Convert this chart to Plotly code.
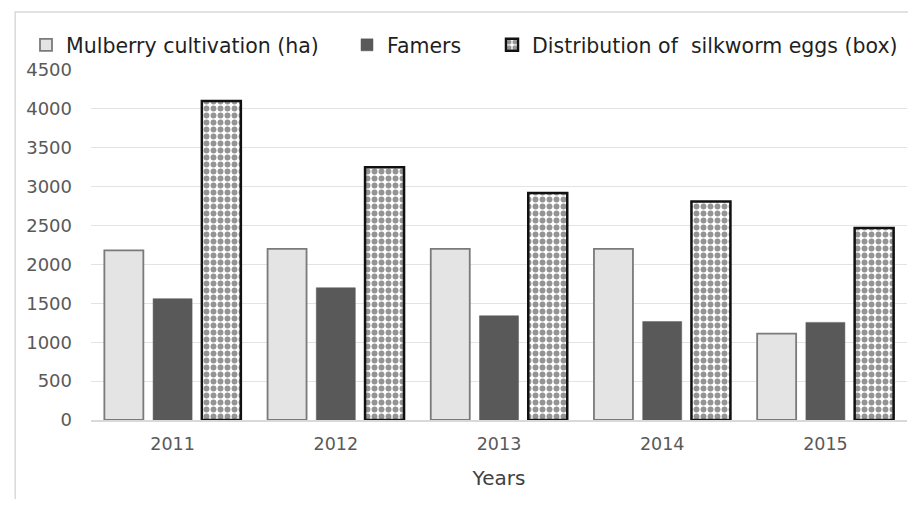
import plotly.graph_objects as go

years = ["2011", "2012", "2013", "2014", "2015"]
mulberry_ha = [2180, 2200, 2200, 2200, 1110]
famers = [1560, 1700, 1340, 1265, 1255]
silkworm_eggs_box = [4100, 3250, 2920, 2810, 2470]

series_names = [
    "Mulberry cultivation (ha)",
    "Famers",
    "Distribution of \u00a0silkworm eggs (box)",
]
y_ticks = [0, 500, 1000, 1500, 2000, 2500, 3000, 3500, 4000, 4500]

FONT = "DejaVu Sans"
# the page body has an 8px margin; the figure is sized to fit inside it
W, H = 900, 491

fig = go.Figure()
fig.add_trace(go.Bar(
    x=years, y=mulberry_ha, name=series_names[0], legend="legend",
    marker=dict(color="#e4e4e4", line=dict(color="#7a7a7a", width=1.8)),
))
fig.add_trace(go.Bar(
    x=years, y=famers, name=series_names[1], legend="legend2",
    marker=dict(color="#595959", line=dict(color="#595959", width=0.5)),
))
fig.add_trace(go.Bar(
    x=years, y=silkworm_eggs_box, name=series_names[2], legend="legend3",
    marker=dict(
        color="white",
        line=dict(color="#111111", width=2.5),
        pattern=dict(shape=".", fgcolor="#2a2a2a", bgcolor="white",
                     size=7, solidity=0.55, fillmode="overlay"),
    ),
))

leg_common = dict(orientation="h", xref="container", yref="container",
                  yanchor="middle", y=1 - 37 / H, xanchor="left",
                  font=dict(family=FONT, size=20.5, color="#1f1f1f"),
                  bgcolor="rgba(0,0,0,0)", borderwidth=0)

fig.update_layout(
    width=W, height=H,
    showlegend=True,
    margin=dict(l=83, r=1, t=62, b=79, autoexpand=False),
    paper_bgcolor="white", plot_bgcolor="white",
    barmode="group", bargap=0.104, bargroupgap=0.2,
    font=dict(family=FONT, color="#595959"),
    legend=dict(x=18 / W, **leg_common),
    legend2=dict(x=339 / W, **leg_common),
    legend3=dict(x=484 / W, **leg_common),
    xaxis=dict(
        showgrid=False, showline=True, linecolor="#d9d9d9", linewidth=1.5,
        ticks="", ticklabelstandoff=7,
        tickfont=dict(family=FONT, size=17.5, color="#595959"),
        title=dict(text="Years", font=dict(family=FONT, size=20, color="#404040"), standoff=18),
    ),
    yaxis=dict(
        range=[0, 4500], tickvals=y_ticks,
        showgrid=True, gridcolor="#e3e3e3", gridwidth=1,
        zeroline=False, showline=False, ticks="", ticklabelstandoff=18,
        tickfont=dict(family=FONT, size=18, color="#595959"),
    ),
    shapes=[dict(type="rect", xref="paper", yref="paper",
                 x0=-0.0929, x1=1.3, y0=-0.6, y1=1.1657,
                 line=dict(color="#d9d9d9", width=1.5), fillcolor="rgba(0,0,0,0)",
                 layer="below")],
)

fig.write_html("out.html")
